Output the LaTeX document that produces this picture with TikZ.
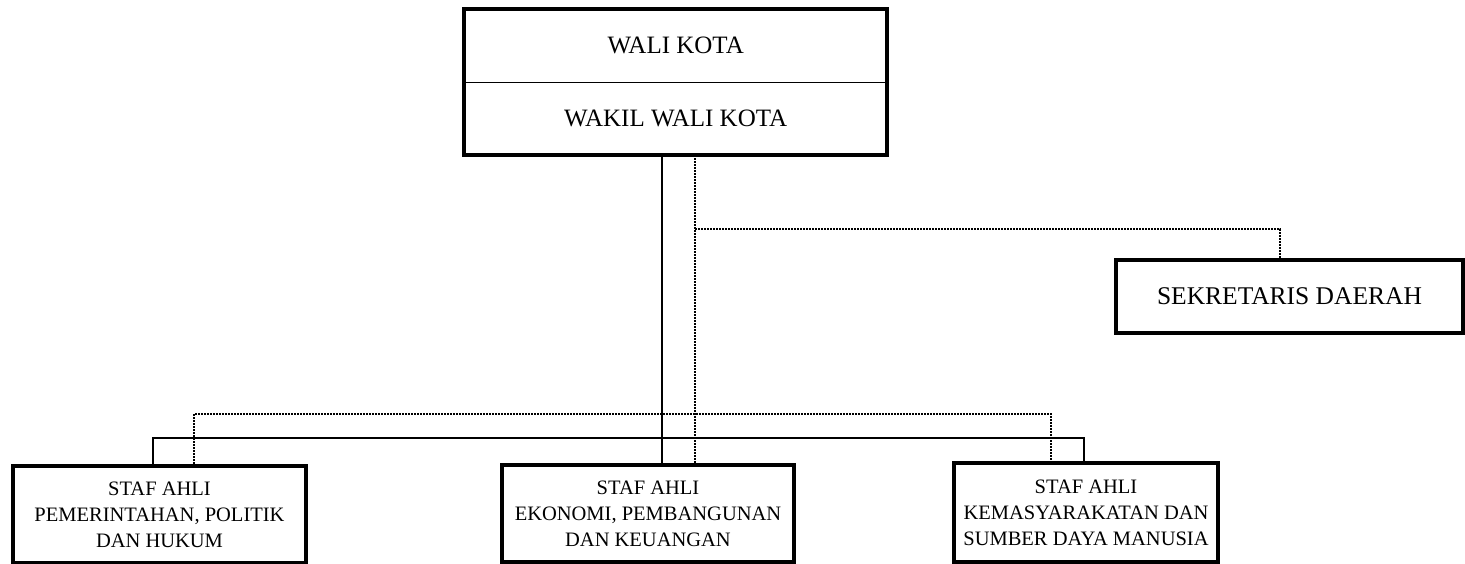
\documentclass[tikz,border=0pt]{standalone}
\usepackage{fontspec}
\setmainfont{Liberation Serif}
\tikzset{
  px/.style={x=1pt,y=-1pt},
  lbl/.style={inner sep=0pt,align=center,font=\fontsize{20.5}{26}\selectfont},
  bigl/.style={font=\fontsize{25}{28}\selectfont},
  thickbox/.style={draw,line width=4pt},
  divider/.style={draw,line width=1.8pt},
  conn/.style={line width=1.9pt},
  dotconn/.style={line width=2.2pt,dash pattern=on 1.8pt off 1.2pt}
}
\begin{document}
\begin{tikzpicture}[px]
\useasboundingbox (0,0) rectangle (1465,563);
% top box
\node[lbl,bigl,minimum width=423pt,minimum height=73pt,anchor=north west] (wali) at (464,9) {WALI KOTA};
\node[lbl,bigl,minimum width=423pt,minimum height=73pt,anchor=north west] (wakil) at (464,82) {WAKIL WALI KOTA};
\draw[divider] (wali.south west) -- (wali.south east);
\draw[thickbox] (wali.north west) rectangle (wakil.south east);
% sekretaris
\node[lbl,font=\fontsize{25.5}{28}\selectfont,thickbox,minimum width=347pt,minimum height=73pt,anchor=north west] (sek) at (1114,258) {SEKRETARIS DAERAH};
% bottom boxes
\node[lbl,thickbox,minimum width=293pt,minimum height=97pt,anchor=north west] (pem) at (11,464) {STAF AHLI\\PEMERINTAHAN, POLITIK\\DAN HUKUM};
\node[lbl,thickbox,minimum width=292pt,minimum height=97pt,anchor=north west] (eko) at (500,463) {STAF AHLI\\EKONOMI, PEMBANGUNAN\\DAN KEUANGAN};
\node[lbl,thickbox,minimum width=264pt,minimum height=99pt,anchor=north west] (kem) at (952,461) {STAF AHLI\\KEMASYARAKATAN DAN\\SUMBER DAYA MANUSIA};
% coordinates for connector columns and rows
\coordinate (solidx) at (662,0);
\coordinate (dotx) at (695,0);
\coordinate (sekx) at (1280,0);
\coordinate (dotrow) at (0,229);
\coordinate (lowdot) at (0,414);
\coordinate (lowsolid) at (0,438);
\coordinate (pemsx) at (153,0);
\coordinate (pemdx) at (194,0);
\coordinate (kemdx) at (1051,0);
\coordinate (kemsx) at (1084,0);
% solid connectors
\draw[conn] (wakil.south -| solidx) -- (eko.north -| solidx);
\draw[conn] (pem.north -| pemsx) -- (lowsolid -| pemsx) -- (lowsolid -| kemsx) -- (kem.north -| kemsx);
% dotted connectors
\draw[dotconn] (wakil.south -| dotx) -- (eko.north -| dotx);
\draw[dotconn] (dotrow -| dotx) -- (dotrow -| sekx) -- (sek.north -| sekx);
\draw[dotconn] (pem.north -| pemdx) -- (lowdot -| pemdx) -- (lowdot -| kemdx) -- (kem.north -| kemdx);
\end{tikzpicture}
\end{document}
